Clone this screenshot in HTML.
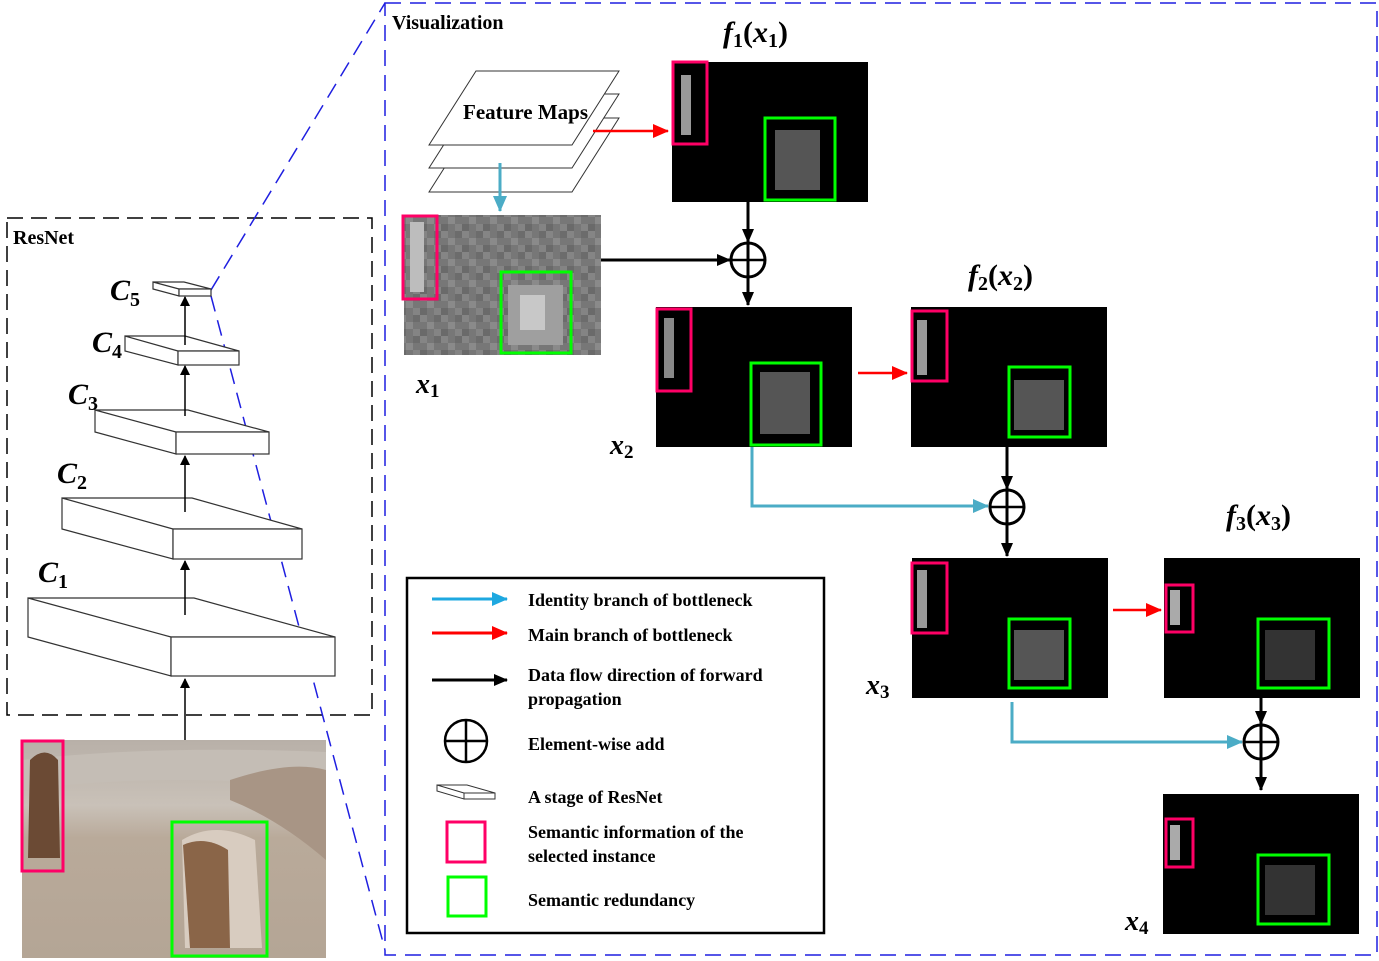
<!DOCTYPE html>
<html><head><meta charset="utf-8"><style>
html,body{margin:0;padding:0;background:#fff;}
svg{display:block;}
.t{font-family:"Liberation Serif",serif;font-weight:bold;fill:#000;}
.m{font-family:"Liberation Serif",serif;font-style:italic;font-weight:bold;fill:#000;}
</style></head><body>
<svg width="1379" height="961" viewBox="0 0 1379 961" xmlns="http://www.w3.org/2000/svg">
<defs>
<marker id="ak" markerWidth="10" markerHeight="10" refX="9" refY="5" orient="auto" markerUnits="userSpaceOnUse"><path d="M0,0 L10,5 L0,10 z" fill="#000"/></marker>
<marker id="akb" markerWidth="14" markerHeight="12" refX="13" refY="6" orient="auto" markerUnits="userSpaceOnUse"><path d="M0,0 L14,6 L0,12 z" fill="#000"/></marker>
<marker id="ar" markerWidth="16" markerHeight="14" refX="15" refY="7" orient="auto" markerUnits="userSpaceOnUse"><path d="M0,0 L16,7 L0,14 z" fill="#f00"/></marker>
<marker id="ab" markerWidth="16" markerHeight="14" refX="15" refY="7" orient="auto" markerUnits="userSpaceOnUse"><path d="M0,0 L16,7 L0,14 z" fill="#4bacc6"/></marker>
<marker id="ab2" markerWidth="16" markerHeight="14" refX="15" refY="7" orient="auto" markerUnits="userSpaceOnUse"><path d="M0,0 L16,7 L0,14 z" fill="#1ea8e0"/></marker>
<pattern id="noise" width="21" height="21" patternUnits="userSpaceOnUse">
<rect width="21" height="21" fill="#777"/>
<rect x="0" y="0" width="7" height="7" fill="#858585"/><rect x="14" y="0" width="7" height="7" fill="#6c6c6c"/>
<rect x="7" y="7" width="7" height="7" fill="#8a8a8a"/>
<rect x="0" y="14" width="7" height="7" fill="#6a6a6a"/><rect x="14" y="14" width="7" height="7" fill="#848484"/>
</pattern>
<linearGradient id="ph" x1="0" y1="0" x2="0" y2="1">
<stop offset="0" stop-color="#b8b0a8"/><stop offset="0.3" stop-color="#c9c1b8"/><stop offset="0.45" stop-color="#b9aa9a"/><stop offset="1" stop-color="#b4a595"/>
</linearGradient>
</defs>

<rect x="7" y="218" width="365" height="497" fill="none" stroke="#000" stroke-width="1.5" stroke-dasharray="16,8"/>
<text x="13" y="244" class="t" font-size="20">ResNet</text>

<line x1="211" y1="290" x2="385" y2="3" stroke="#1f1fe0" stroke-width="1.5" stroke-dasharray="16,9"/>
<line x1="211" y1="296" x2="385" y2="950" stroke="#1f1fe0" stroke-width="1.5" stroke-dasharray="16,9"/>

<g fill="#fff" stroke="#333" stroke-width="1.2">
<path d="M28,598 L194,598 L335,637 L171,637 Z M28,598 L28,637 L171,676 L171,637 Z"/><rect x="171" y="637" width="164" height="39"/>
<path d="M62,498 L192,498 L302,529 L173,529 Z M62,498 L62,529 L173,559 L173,529 Z"/><rect x="173" y="529" width="129" height="30"/>
<path d="M95,410 L188,410 L269,432 L176,432 Z M95,410 L95,432 L176,454 L176,432 Z"/><rect x="176" y="432" width="93" height="22"/>
<path d="M125,336 L185,336 L239,351 L178,351 Z M125,336 L125,351 L178,365 L178,351 Z"/><rect x="178" y="351" width="61" height="14"/>
<path d="M153,282 L184,282 L211,289 L179,289 Z M153,282 L153,289 L179,296 L179,289 Z"/><rect x="179" y="289" width="32" height="7"/>
</g>
<g stroke="#000" stroke-width="1.5">
<line x1="185" y1="740" x2="185" y2="679" marker-end="url(#ak)"/>
<line x1="185" y1="615" x2="185" y2="561" marker-end="url(#ak)"/>
<line x1="185" y1="512" x2="185" y2="456" marker-end="url(#ak)"/>
<line x1="185" y1="416" x2="185" y2="366" marker-end="url(#ak)"/>
<line x1="185" y1="345" x2="185" y2="297" marker-end="url(#ak)"/>
</g>
<g class="m" font-size="30">
<text x="110" y="300">C<tspan font-size="20" dy="6" font-style="normal">5</tspan></text>
<text x="92" y="352">C<tspan font-size="20" dy="6" font-style="normal">4</tspan></text>
<text x="68" y="404">C<tspan font-size="20" dy="6" font-style="normal">3</tspan></text>
<text x="57" y="483">C<tspan font-size="20" dy="6" font-style="normal">2</tspan></text>
<text x="38" y="582">C<tspan font-size="20" dy="6" font-style="normal">1</tspan></text>
</g>

<rect x="22" y="740" width="304" height="218" fill="url(#ph)"/>
<path d="M22,760 Q150,745 326,752 L326,790 Q180,770 22,790 Z" fill="#c4bdb5"/>
<path d="M230,780 Q290,760 326,770 L326,860 Q280,820 230,800 Z" fill="#a89585"/>
<path d="M30,760 Q45,745 58,760 L60,858 L28,858 Z" fill="#6b4a34"/>
<path d="M182,840 Q215,820 255,840 L262,948 L185,948 Z" fill="#d8ccc0"/>
<path d="M183,845 Q205,835 228,850 L230,948 L190,948 Z" fill="#8a6548"/>
<rect x="22" y="741" width="41" height="130" fill="none" stroke="#ff0066" stroke-width="3"/>
<rect x="172" y="822" width="95" height="134" fill="none" stroke="#00ff00" stroke-width="3"/>

<rect x="385" y="3" width="992" height="952" fill="none" stroke="#1f1fe0" stroke-width="1.5" stroke-dasharray="16,9"/>
<text x="392" y="29" class="t" font-size="20">Visualization</text>

<g fill="#fff" stroke="#333" stroke-width="1">
<path d="M429,192 L476,118 L619,118 L572,192 Z"/>
<path d="M429,168 L476,94 L619,94 L572,168 Z"/>
<path d="M429,145 L476,71 L619,71 L572,145 Z"/>
</g>
<text x="463" y="119" class="t" font-size="21">Feature Maps</text>
<line x1="593" y1="131" x2="668" y2="131" stroke="#f00" stroke-width="2.5" marker-end="url(#ar)"/>
<line x1="500" y1="163" x2="500" y2="211" stroke="#4bacc6" stroke-width="3" marker-end="url(#ab)"/>

<rect x="404" y="215" width="197" height="140" fill="url(#noise)"/>
<rect x="410" y="222" width="14" height="70" fill="#bdbdbd"/>
<rect x="508" y="285" width="55" height="60" fill="#9f9f9f"/>
<rect x="520" y="295" width="25" height="35" fill="#c8c8c8"/>
<rect x="403" y="216" width="34" height="83" fill="none" stroke="#ff0066" stroke-width="3"/>
<rect x="501" y="272" width="70" height="81" fill="none" stroke="#00ff00" stroke-width="3"/>
<text x="416" y="393" class="m" font-size="28">x<tspan font-size="19" dy="4" font-style="normal">1</tspan></text>

<rect x="672" y="62" width="196" height="140" fill="#000"/>
<rect x="681" y="75" width="10" height="60" fill="#999"/>
<rect x="775" y="130" width="45" height="60" fill="#555"/>
<rect x="673" y="62" width="34" height="82" fill="none" stroke="#ff0066" stroke-width="3"/>
<rect x="765" y="118" width="70" height="82" fill="none" stroke="#00ff00" stroke-width="3"/>
<text x="723" y="42" class="m" font-size="30">f<tspan font-size="20" dy="5" font-style="normal">1</tspan><tspan dy="-5" font-style="normal">(</tspan>x<tspan font-size="20" dy="5" font-style="normal">1</tspan><tspan dy="-5" font-style="normal">)</tspan></text>

<line x1="748" y1="202" x2="748" y2="242" stroke="#000" stroke-width="3" marker-end="url(#akb)"/>
<line x1="601" y1="260" x2="730" y2="260" stroke="#000" stroke-width="3" marker-end="url(#akb)"/>
<circle cx="748" cy="260" r="17" fill="#fff" stroke="#000" stroke-width="3"/>
<line x1="731" y1="260" x2="765" y2="260" stroke="#000" stroke-width="2.5"/>
<line x1="748" y1="243" x2="748" y2="305" stroke="#000" stroke-width="3" marker-end="url(#akb)"/>

<rect x="656" y="307" width="196" height="140" fill="#000"/>
<rect x="664" y="318" width="10" height="60" fill="#888"/>
<rect x="760" y="372" width="50" height="62" fill="#555"/>
<rect x="657" y="309" width="34" height="82" fill="none" stroke="#ff0066" stroke-width="3"/>
<rect x="751" y="363" width="70" height="82" fill="none" stroke="#00ff00" stroke-width="3"/>
<text x="610" y="454" class="m" font-size="28">x<tspan font-size="19" dy="4" font-style="normal">2</tspan></text>

<line x1="858" y1="373" x2="907" y2="373" stroke="#f00" stroke-width="2.5" marker-end="url(#ar)"/>
<rect x="911" y="307" width="196" height="140" fill="#000"/>
<rect x="917" y="320" width="10" height="55" fill="#999"/>
<rect x="1014" y="380" width="50" height="50" fill="#555"/>
<rect x="912" y="311" width="35" height="70" fill="none" stroke="#ff0066" stroke-width="3"/>
<rect x="1009" y="367" width="61" height="70" fill="none" stroke="#00ff00" stroke-width="3"/>
<text x="968" y="285" class="m" font-size="30">f<tspan font-size="20" dy="5" font-style="normal">2</tspan><tspan dy="-5" font-style="normal">(</tspan>x<tspan font-size="20" dy="5" font-style="normal">2</tspan><tspan dy="-5" font-style="normal">)</tspan></text>

<line x1="1007" y1="447" x2="1007" y2="489" stroke="#000" stroke-width="3" marker-end="url(#akb)"/>
<polyline points="752,447 752,506 988,506" fill="none" stroke="#4bacc6" stroke-width="3" marker-end="url(#ab)"/>
<circle cx="1007" cy="507" r="17" fill="#fff" stroke="#000" stroke-width="3"/>
<line x1="990" y1="507" x2="1024" y2="507" stroke="#000" stroke-width="2.5"/>
<line x1="1007" y1="490" x2="1007" y2="556" stroke="#000" stroke-width="3" marker-end="url(#akb)"/>

<rect x="912" y="558" width="196" height="140" fill="#000"/>
<rect x="917" y="570" width="10" height="58" fill="#999"/>
<rect x="1014" y="630" width="50" height="50" fill="#555"/>
<rect x="912" y="563" width="35" height="70" fill="none" stroke="#ff0066" stroke-width="3"/>
<rect x="1009" y="619" width="61" height="69" fill="none" stroke="#00ff00" stroke-width="3"/>
<text x="866" y="694" class="m" font-size="28">x<tspan font-size="19" dy="4" font-style="normal">3</tspan></text>

<line x1="1113" y1="610" x2="1161" y2="610" stroke="#f00" stroke-width="2.5" marker-end="url(#ar)"/>
<rect x="1164" y="558" width="196" height="140" fill="#000"/>
<rect x="1170" y="590" width="10" height="35" fill="#aaa"/>
<rect x="1265" y="630" width="50" height="50" fill="#333"/>
<rect x="1166" y="585" width="27" height="47" fill="none" stroke="#ff0066" stroke-width="3"/>
<rect x="1258" y="619" width="71" height="69" fill="none" stroke="#00ff00" stroke-width="3"/>
<text x="1226" y="525" class="m" font-size="30">f<tspan font-size="20" dy="5" font-style="normal">3</tspan><tspan dy="-5" font-style="normal">(</tspan>x<tspan font-size="20" dy="5" font-style="normal">3</tspan><tspan dy="-5" font-style="normal">)</tspan></text>

<line x1="1261" y1="698" x2="1261" y2="724" stroke="#000" stroke-width="3" marker-end="url(#akb)"/>
<polyline points="1012,702 1012,742 1242,742" fill="none" stroke="#4bacc6" stroke-width="3" marker-end="url(#ab)"/>
<circle cx="1261" cy="742" r="17" fill="#fff" stroke="#000" stroke-width="3"/>
<line x1="1244" y1="742" x2="1278" y2="742" stroke="#000" stroke-width="2.5"/>
<line x1="1261" y1="725" x2="1261" y2="790" stroke="#000" stroke-width="3" marker-end="url(#akb)"/>

<rect x="1163" y="794" width="196" height="140" fill="#000"/>
<rect x="1170" y="825" width="10" height="35" fill="#aaa"/>
<rect x="1265" y="865" width="50" height="50" fill="#333"/>
<rect x="1166" y="819" width="27" height="48" fill="none" stroke="#ff0066" stroke-width="3"/>
<rect x="1258" y="855" width="71" height="69" fill="none" stroke="#00ff00" stroke-width="3"/>
<text x="1125" y="930" class="m" font-size="28">x<tspan font-size="19" dy="4" font-style="normal">4</tspan></text>

<rect x="407" y="578" width="417" height="355" fill="#fff" stroke="#000" stroke-width="2.5"/>
<line x1="432" y1="599" x2="507" y2="599" stroke="#1ea8e0" stroke-width="3" marker-end="url(#ab2)"/>
<line x1="432" y1="633" x2="507" y2="633" stroke="#f00" stroke-width="3" marker-end="url(#ar)"/>
<line x1="432" y1="680" x2="507" y2="680" stroke="#000" stroke-width="3" marker-end="url(#akb)"/>
<circle cx="466" cy="741" r="21" fill="none" stroke="#000" stroke-width="2.5"/>
<line x1="445" y1="741" x2="487" y2="741" stroke="#000" stroke-width="2.5"/>
<line x1="466" y1="720" x2="466" y2="762" stroke="#000" stroke-width="2.5"/>
<g fill="#fff" stroke="#333" stroke-width="1">
<path d="M437,785 L467,785 L495,793 L464,793 Z M437,785 L437,791 L464,799 L464,793 Z"/><rect x="464" y="793" width="31" height="6"/>
</g>
<rect x="447" y="822" width="38" height="40" fill="none" stroke="#ff0066" stroke-width="3"/>
<rect x="448" y="877" width="38" height="39" fill="none" stroke="#00ff00" stroke-width="3"/>
<g class="t" font-size="18">
<text x="528" y="606">Identity branch of bottleneck</text>
<text x="528" y="641">Main branch of bottleneck</text>
<text x="528" y="681">Data flow direction of forward</text>
<text x="528" y="705">propagation</text>
<text x="528" y="750">Element-wise add</text>
<text x="528" y="803">A stage of ResNet</text>
<text x="528" y="838">Semantic information of the</text>
<text x="528" y="862">selected instance</text>
<text x="528" y="906">Semantic redundancy</text>
</g>
</svg>
</body></html>
